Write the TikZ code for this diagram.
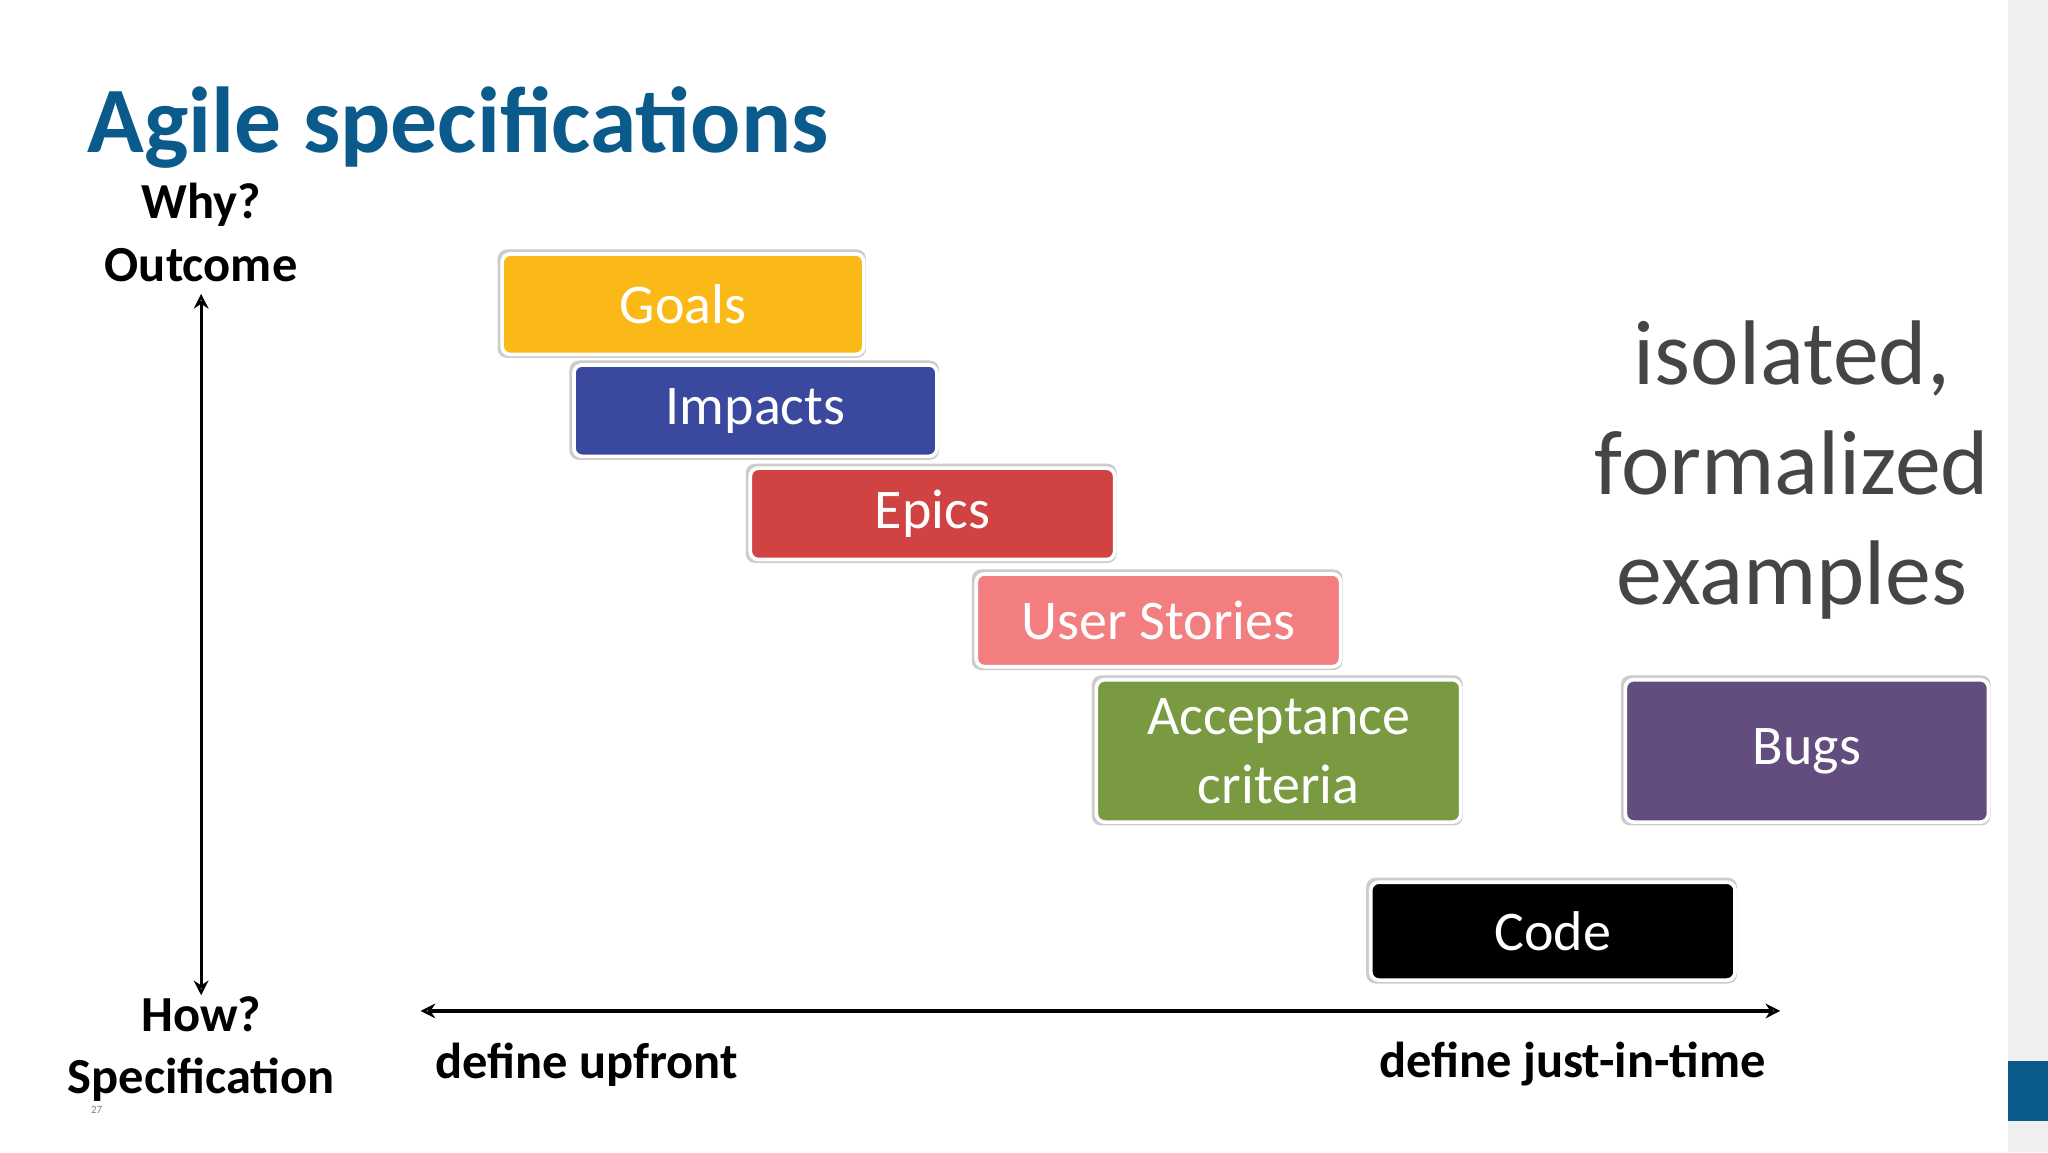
\documentclass[tikz,border=0pt]{standalone}
\usepackage{fontspec}
\setmainfont{Carlito}
\usetikzlibrary{arrows.meta}
\definecolor{titleblue}{HTML}{0B5A8C}
\definecolor{cgoal}{HTML}{FBB917}
\definecolor{cimp}{HTML}{3A489E}
\definecolor{cepic}{HTML}{D14242}
\definecolor{cus}{HTML}{F27E80}
\definecolor{cacc}{HTML}{7A9A42}
\definecolor{cbug}{HTML}{634C7E}
\definecolor{graytxt}{HTML}{454545}
\tikzset{
  pbox/.style={rounded corners=9pt, draw=white, line width=4pt, text=white, align=center,
    inner sep=0pt, font=\fontsize{61}{75}\selectfont},
  lbl/.style={font=\bfseries\fontsize{55}{68}\selectfont, align=center, inner sep=0pt},
  ax/.style={line width=3.5pt, {Stealth[length=16pt,width=16pt,open]}-{Stealth[length=16pt,width=16pt,open]}}
}
\newcommand{\pbx}[6]{%
  \fill[gray!40, rounded corners=10pt] (#2-2,#3-2) rectangle (#4+3,#5+4);
  \node[pbox, fill=#6, minimum width={(#4-#2)*0.05cm}, minimum height={(#5-#3)*0.05cm}, anchor=north west] (#1) at (#2,#3) {\pbt};}
\begin{document}
\begin{tikzpicture}[x=0.05cm,y=-0.05cm]
\fill[white] (0,0) rectangle (1568,882);
\useasboundingbox (0,0) rectangle (1568,882);
\fill[blue!4!gray!12] (1537,0) rectangle (1568,882);
\fill[titleblue] (1537,812) rectangle (1568,858);
\node[anchor=west, text=titleblue, font=\bfseries\fontsize{102}{115}\selectfont, inner sep=0pt] (title) at (67,98) {Agile specifications};
\node[lbl] (why) at (154,178) {Why?\\Outcome};
\node[lbl] (how) at (154,803) {How?\\Specification};
\coordinate (vt) at (154,225); \coordinate (vb) at (154,762);
\draw[ax] (vt) -- (vb);
\coordinate (hl) at (322,774); \coordinate (hr) at (1363,774);
\draw[ax] (hl) -- (hr);
\node[lbl, anchor=west] (up) at (333,815) {define upfront};
\node[lbl, anchor=east] (jit) at (1352,815) {define just-in-time};
\node[text=gray, font=\fontsize{12}{14}\selectfont] (pg) at (74,850) {27};
\def\pbt{Goals}\pbx{goals}{383}{193}{660}{270}{cgoal}
\def\pbt{Impacts}\pbx{imp}{438}{278}{716}{348}{cimp}
\def\pbt{Epics}\pbx{epic}{573}{357}{852}{427}{cepic}
\def\pbt{User Stories}\pbx{us}{746}{438}{1025}{509}{cus}
\def\pbt{Acceptance\\criteria}\pbx{acc}{838}{519}{1117}{628}{cacc}
\def\pbt{Bugs}\pbx{bugs}{1243}{519}{1521}{628}{cbug}
\def\pbt{Code}\pbx{code}{1048}{674}{1327}{749}{black}
\node[text=graytxt, align=center, font=\fontsize{100}{120}\selectfont] (iso) at (1372,360) {isolated,\\formalized\\examples};
\end{tikzpicture}
\end{document}
